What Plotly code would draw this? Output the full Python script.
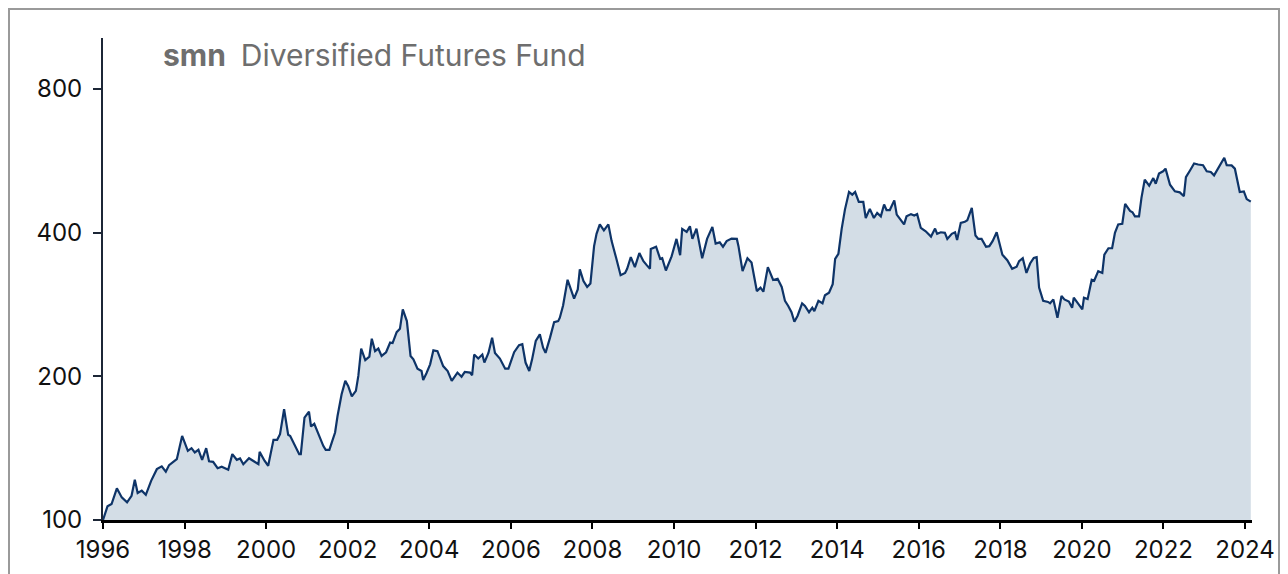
import plotly.graph_objects as go

# Fund value index (start = 100), decimal years
years = [
    1996.00, 1996.11, 1996.21, 1996.34, 1996.46, 1996.59, 1996.70, 1996.78, 1996.85, 1996.95,
    1997.05, 1997.18, 1997.32, 1997.44, 1997.54, 1997.62, 1997.77, 1997.81, 1997.94,
    1998.08, 1998.17, 1998.25, 1998.34, 1998.43, 1998.53, 1998.60, 1998.70, 1998.81, 1998.91,
    1999.07, 1999.17, 1999.28, 1999.36, 1999.44, 1999.58, 1999.71, 1999.81, 1999.84, 1999.96,
    2000.05, 2000.18, 2000.27, 2000.34, 2000.44, 2000.54, 2000.59, 2000.71, 2000.81, 2000.85, 2000.94,
    2001.05, 2001.10, 2001.18, 2001.28, 2001.40, 2001.46, 2001.55, 2001.61, 2001.69, 2001.75, 2001.85, 2001.94,
    2002.01, 2002.10, 2002.20, 2002.26, 2002.33, 2002.43, 2002.53, 2002.59, 2002.67, 2002.75, 2002.83, 2002.94,
    2003.04, 2003.10, 2003.20, 2003.28, 2003.35, 2003.45, 2003.54, 2003.61, 2003.71, 2003.81, 2003.85, 2003.93,
    2004.02, 2004.10, 2004.20, 2004.34, 2004.45, 2004.55, 2004.69, 2004.79, 2004.87,
    2005.00, 2005.05, 2005.10, 2005.20, 2005.30, 2005.35, 2005.45, 2005.54, 2005.61, 2005.73, 2005.86, 2005.94,
    2006.08, 2006.20, 2006.28, 2006.36, 2006.45, 2006.52, 2006.61, 2006.71, 2006.79, 2006.85, 2006.96,
    2007.06, 2007.16, 2007.20, 2007.28, 2007.39, 2007.55, 2007.64, 2007.69, 2007.78, 2007.87, 2007.95,
    2008.04, 2008.10, 2008.18, 2008.28, 2008.39, 2008.47, 2008.58, 2008.69, 2008.80, 2008.85, 2008.94,
    2009.04, 2009.15, 2009.25, 2009.33, 2009.41, 2009.43, 2009.56, 2009.66, 2009.71, 2009.80, 2009.94,
    2010.06, 2010.15, 2010.20, 2010.31, 2010.39, 2010.45, 2010.55, 2010.69, 2010.81, 2010.94,
    2011.02, 2011.12, 2011.20, 2011.29, 2011.41, 2011.54, 2011.58, 2011.68, 2011.80, 2011.90,
    2012.03, 2012.12, 2012.19, 2012.30, 2012.43, 2012.54, 2012.64, 2012.72, 2012.80, 2012.88, 2012.95,
    2013.03, 2013.14, 2013.21, 2013.31, 2013.39, 2013.44, 2013.54, 2013.64, 2013.70, 2013.80, 2013.89, 2013.95,
    2014.03, 2014.11, 2014.19, 2014.29, 2014.37, 2014.44, 2014.53, 2014.64, 2014.70, 2014.80, 2014.90, 2014.98,
    2015.07, 2015.15, 2015.21, 2015.29, 2015.40, 2015.46, 2015.58, 2015.64, 2015.70, 2015.81, 2015.89, 2015.96,
    2016.05, 2016.17, 2016.30, 2016.40, 2016.45, 2016.54, 2016.64, 2016.70, 2016.81, 2016.89, 2016.94,
    2017.03, 2017.13, 2017.19, 2017.30, 2017.39, 2017.46, 2017.54, 2017.65, 2017.73, 2017.81, 2017.91,
    2018.05, 2018.17, 2018.29, 2018.40, 2018.46, 2018.55, 2018.64, 2018.73, 2018.82, 2018.89, 2018.95,
    2019.05, 2019.17, 2019.22, 2019.30, 2019.40, 2019.50, 2019.57, 2019.68, 2019.76, 2019.80, 2019.91,
    2020.01, 2020.05, 2020.14, 2020.24, 2020.30, 2020.40, 2020.50, 2020.55, 2020.65, 2020.74, 2020.81, 2020.89, 2020.99,
    2021.06, 2021.18, 2021.24, 2021.30, 2021.40, 2021.46, 2021.54, 2021.65, 2021.75, 2021.81, 2021.89, 2021.99,
    2022.05, 2022.16, 2022.28, 2022.40, 2022.50, 2022.55, 2022.65, 2022.75, 2022.85, 2022.97,
    2023.06, 2023.16, 2023.24, 2023.34, 2023.49, 2023.55, 2023.67, 2023.75, 2023.87, 2023.97,
    2024.04, 2024.14,
]

nav = [
    100.0, 106.8, 108.0, 116.5, 111.5, 108.9, 112.4, 121.4, 113.9, 115.2,
    112.9, 120.8, 127.8, 129.5, 126.2, 130.3, 133.3, 134.1, 150.0,
    139.6, 141.4, 138.5, 140.3, 133.7, 141.4, 132.7, 132.4, 128.4, 129.3,
    127.4, 137.4, 133.7, 134.6, 130.9, 134.7, 132.4, 130.9, 138.9, 133.1,
    129.9, 147.2, 147.2, 151.3, 170.6, 150.8, 150.0, 143.0, 137.4, 137.4, 163.9,
    168.7, 157.0, 159.0, 151.3, 143.0, 140.3, 140.3, 145.4, 152.5, 165.1, 183.4, 195.6,
    191.0, 181.5, 186.4, 200.4, 228.6, 216.3, 219.9, 239.8, 225.8, 228.6, 220.6, 224.6,
    235.3, 234.8, 247.5, 251.5, 276.1, 261.0, 220.6, 217.0, 207.5, 205.2, 196.5, 203.0,
    211.9, 226.7, 225.8, 210.1, 205.2, 195.6, 203.6, 199.6, 204.3,
    203.6, 201.0, 222.1, 217.9, 222.1, 213.7, 223.9, 241.0, 223.9, 217.9, 207.5, 207.5,
    224.6, 232.5, 233.6, 213.7, 205.2, 217.0, 237.2, 244.9, 229.6, 223.9, 241.0,
    259.7, 261.0, 265.3, 281.5, 318.6, 290.8, 304.1, 335.0, 316.7, 307.8, 313.0,
    374.7, 397.6, 416.1, 404.3, 416.1, 383.9, 354.2, 325.7, 329.3, 335.9, 355.4,
    338.6, 362.3, 348.5, 341.9, 335.9, 369.4, 373.6, 352.4, 353.5, 333.2, 356.6,
    388.0, 358.6, 407.2, 401.4, 412.3, 388.0, 407.8, 353.5, 388.0, 411.1,
    379.4, 381.6, 373.6, 383.9, 388.5, 388.0, 374.7, 332.1, 353.5, 346.2,
    301.7, 306.7, 300.8, 338.6, 318.2, 320.2, 307.8, 287.7, 280.8, 272.4, 260.2,
    267.9, 284.4, 280.8, 272.4, 278.4, 273.8, 287.7, 284.4, 295.6, 299.4, 311.9, 352.4,
    361.2, 407.2, 446.9, 486.5, 480.3, 486.5, 463.7, 463.7, 429.2, 448.4, 429.2, 439.9,
    432.6, 458.0, 446.0, 446.0, 467.3, 436.3, 422.3, 416.1, 432.6, 437.3, 434.5, 437.3,
    409.1, 402.6, 392.4, 407.8, 397.6, 400.6, 399.6, 388.0, 397.6, 400.6, 385.9,
    419.3, 421.3, 424.5, 450.6, 394.4, 388.0, 388.0, 373.6, 374.7, 383.9, 400.6,
    359.6, 350.1, 335.9, 339.2, 348.5, 353.5, 329.3, 344.6, 354.0, 355.4, 306.7,
    287.7, 286.3, 284.4, 289.8, 265.3, 294.5, 289.8, 286.8, 278.4, 292.2, 283.9,
    276.1, 292.2, 290.2, 318.6, 317.1, 332.1, 329.3, 359.6, 370.9, 370.9, 399.6, 416.1, 417.4,
    459.6, 444.0, 441.3, 432.6, 432.6, 472.8, 516.3, 501.6, 520.3, 506.4, 531.8, 537.6,
    544.5, 504.0, 488.0, 485.7, 476.8, 522.6, 539.7, 558.2, 555.5, 553.7,
    537.6, 535.9, 527.2, 544.5, 574.0, 553.7, 553.0, 544.5, 486.5, 488.0,
    470.2, 464.3,
]

x_ticks = list(range(1996, 2025, 2))
y_ticks = [100, 200, 400, 800]

LINE = "#0e3468"
FILL = "#d3dde6"
FONT = "Inter, Liberation Sans, sans-serif"

W, H = 1272, 574
ML, MR, MT, MB = 95, 28, 30, 62
PW, PH = W - ML - MR, H - MT - MB

fig = go.Figure()
fig.add_trace(go.Scatter(
    x=years, y=nav, mode="lines",
    line=dict(color=LINE, width=2.2),
    fill="tozeroy", fillcolor=FILL,
    hoverinfo="x+y", showlegend=False,
))

fig.update_layout(
    width=W, height=H,
    margin=dict(l=ML, r=MR, t=MT, b=MB, autoexpand=False),
    paper_bgcolor="white", plot_bgcolor="white",
    font=dict(family=FONT, size=24, color="#111111"),
    xaxis=dict(
        range=[1996, 2024.17], tickvals=x_ticks, ticktext=[str(t) for t in x_ticks],
        showgrid=False, zeroline=False,
        showline=True, linecolor="#000000", linewidth=3,
        ticks="outside", ticklen=6, tickwidth=2, tickcolor="#000000",
        tickfont=dict(family=FONT, size=24, color="#111111"),
    ),
    yaxis=dict(
        type="log", range=[2.0, 3.0097], tickvals=y_ticks, ticktext=[str(t) for t in y_ticks],
        showgrid=False, zeroline=False,
        showline=True, linecolor="#1c2636", linewidth=2,
        ticks="outside", ticklen=8, tickwidth=2, tickcolor="#1c2636",
        ticklabelstandoff=6,
        tickfont=dict(family=FONT, size=24, color="#111111"),
    ),
    annotations=[dict(
        xref="paper", yref="paper", x=58 / PW, y=1 + (MT - 47) / PH,
        xanchor="left", yanchor="middle",
        text="<b>smn</b>&#8194;Diversified Futures Fund", showarrow=False,
        font=dict(family=FONT, size=30, color="#6e6e6e"),
    )],
    shapes=[dict(
        type="rect", xref="paper", yref="paper",
        x0=(1 - ML) / PW, x1=(W - ML - 1) / PW,
        y0=-(MB + 20) / PH, y1=1 + (MT - 1) / PH,
        line=dict(color="#9a9a9a", width=2), fillcolor="rgba(0,0,0,0)", layer="above",
    )],
)

fig.write_html("out.html")
